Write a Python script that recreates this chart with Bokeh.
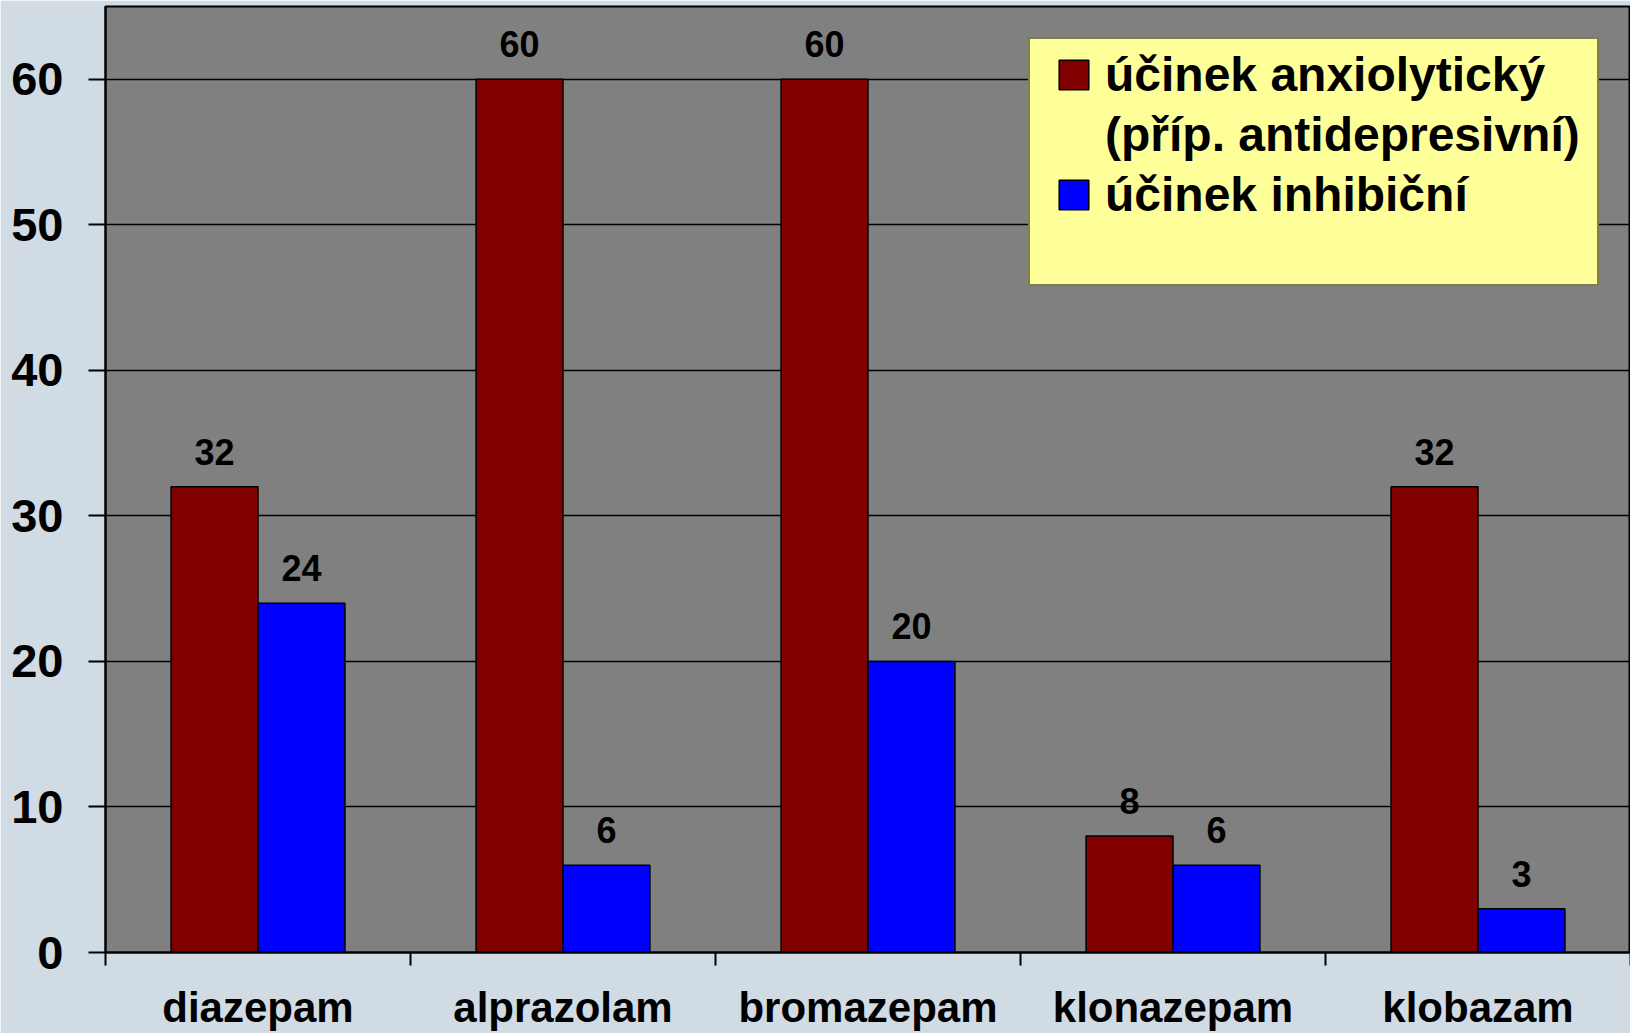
from bokeh.plotting import figure
from bokeh.models import (ColumnDataSource, Range1d, FixedTicker, LabelSet,
                          Legend, LegendItem)
from bokeh.embed import file_html
from bokeh.resources import INLINE
from bokeh.core.properties import value

# ---- data ----
categories = ["diazepam", "alprazolam", "bromazepam", "klonazepam", "klobazam"]
anxiolytic = [32, 60, 60, 8, 32]
inhibitory = [24, 6, 20, 6, 3]
y_ticks = [0, 10, 20, 30, 40, 50, 60]
series_names = ["účinek anxiolytický", "(příp. antidepresivní)", "účinek inhibiční"]

FONT = "Liberation Sans"
RED = "#800000"
BLUE = "#0000FF"
BG = "#D0DBE4"

n = len(categories)
centers = [i + 0.5 for i in range(n)]
bw = 0.285
src = ColumnDataSource(dict(
    cat=categories,
    xc=centers,
    xa=[c - bw / 2 for c in centers],
    xi=[c + bw / 2 for c in centers],
    anx=anxiolytic,
    inh=inhibitory,
    anx_t=[str(v) for v in anxiolytic],
    inh_t=[str(v) for v in inhibitory],
))

p = figure(width=1630, height=1033, output_backend="svg", toolbar_location=None,
           x_range=Range1d(0, n), y_range=Range1d(0, 65),
           min_border_left=105, min_border_right=0, min_border_top=6,
           min_border_bottom=81)
p.background_fill_color = "#808080"
p.border_fill_color = BG
p.outline_line_color = "black"
p.outline_line_width = 2

r1 = p.vbar(x="xa", top="anx", width=bw, source=src, fill_color=RED,
            line_color="black", line_width=1.5)
r2 = p.vbar(x="xi", top="inh", width=bw, source=src, fill_color=BLUE,
            line_color="black", line_width=1.5)
# empty, transparent renderer used only for legend rows without a swatch
blank = p.vbar(x=[], top=[], width=bw, fill_alpha=0, line_alpha=0)

for xcol, ycol, tcol in (("xa", "anx", "anx_t"), ("xi", "inh", "inh_t")):
    p.add_layout(LabelSet(x=xcol, y=ycol, text=tcol, source=src,
                          text_align="center", text_baseline="alphabetic",
                          y_offset=22, text_font=value(FONT),
                          text_font_style="bold", text_font_size="36px",
                          text_color="black"))

# grid
p.xgrid.visible = False
p.ygrid.grid_line_color = "black"
p.ygrid.grid_line_width = 1.5
p.ygrid.ticker = FixedTicker(ticks=y_ticks)

# y axis
ya = p.yaxis[0]
ya.ticker = FixedTicker(ticks=y_ticks, minor_ticks=[])
ya.axis_line_width = 2
ya.major_tick_out = 17
ya.major_tick_in = 0
ya.major_tick_line_width = 2
ya.minor_tick_line_color = None
ya.major_label_standoff = 25
ya.major_label_text_font = FONT
ya.major_label_text_font_style = "bold"
ya.major_label_text_font_size = "47px"
ya.major_label_text_color = "black"

# x axis: labels at centres, ticks at category boundaries
xa = p.xaxis[0]
xa.ticker = FixedTicker(ticks=centers, minor_ticks=list(range(n + 1)))
xa.major_label_overrides = {c: name for c, name in zip(centers, categories)}
xa.axis_line_width = 2
xa.major_tick_out = 0
xa.major_tick_in = 0
xa.minor_tick_out = 13
xa.minor_tick_in = 0
xa.minor_tick_line_width = 2
xa.minor_tick_line_color = "black"
xa.major_label_standoff = 18
xa.major_label_text_font = FONT
xa.major_label_text_font_style = "bold"
xa.major_label_text_font_size = "42px"
xa.major_label_text_color = "black"

# legend frame (yellow box)
legend_box = Legend(items=[LegendItem(label=" ", renderers=[blank])],
                    location="top_right", margin=31, padding=0, spacing=0,
                    glyph_width=1, glyph_height=1, label_standoff=0,
                    label_width=566, label_height=245,
                    label_text_font_size="10px",
                    background_fill_color="#FFFF99", background_fill_alpha=1,
                    border_line_color="black", border_line_width=2)
p.add_layout(legend_box)

# legend entries
legend = Legend(items=[LegendItem(label=series_names[0], renderers=[r1]),
                       LegendItem(label=series_names[1], renderers=[blank]),
                       LegendItem(label=series_names[2], renderers=[r2])],
                location=(950, 730), margin=0, padding=0, spacing=5,
                glyph_width=37, glyph_height=37, label_standoff=13,
                label_text_font=FONT, label_text_font_style="bold",
                label_text_font_size="48px", label_text_color="black",
                background_fill_alpha=0, border_line_color=None)
p.add_layout(legend)

open("out.html", "w").write(file_html(p, INLINE))
